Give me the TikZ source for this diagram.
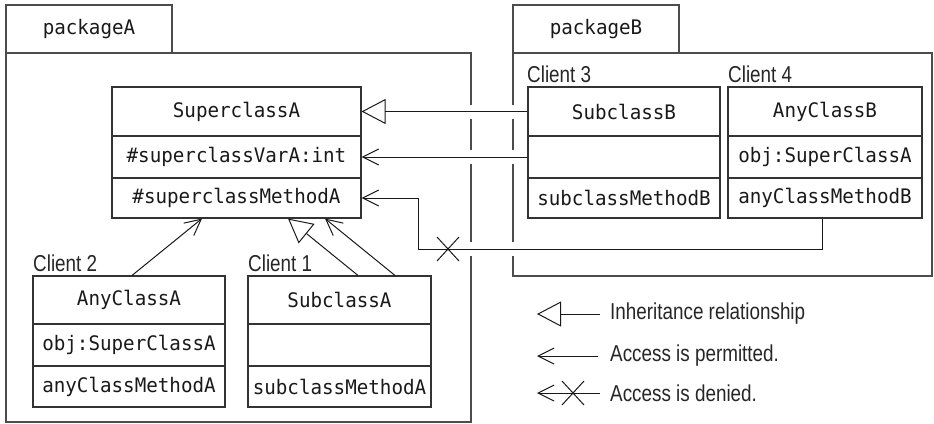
\documentclass[tikz,border=0pt]{standalone}
\usepackage{fontspec}
\setmainfont{Liberation Sans}
\newfontfamily\monof[FakeStretch=0.96]{DejaVu Sans Mono}
\newfontfamily\labf[FakeStretch=0.82]{Liberation Sans}
\usetikzlibrary{arrows.meta}
\begin{document}
\begin{tikzpicture}[x=1pt,y=-1pt,
  comp/.style={draw=black!80, line width=1.1pt, inner sep=0pt,
    font=\monof\fontsize{20}{22}\selectfont, text=black!90},
  pkg/.style={draw=black!70, line width=1.1pt, inner sep=0pt,
    font=\monof\fontsize{20}{22}\selectfont, text=black!90},
  lbl/.style={inner sep=0pt, font=\labf\fontsize{23}{26}\selectfont, text=black!85},
  conn/.style={draw=black!90, line width=1pt},
  inherit/.style={conn, -{Triangle[open, length=24pt, width=25pt, line width=1pt]}},
  access/.style={conn, -{Straight Barb[length=16pt, width=16pt, line width=1pt]}},
  gap/.style={fill=white, draw=none}]
\useasboundingbox (0,0) rectangle (934,423);

% packages
\node[pkg, minimum width=166pt, minimum height=48pt] (pkgAtab) at (89,29) {packageA};
\node[pkg, minimum width=465pt, minimum height=369pt] (pkgA) at (238.5,237.5) {};
\node[pkg, minimum width=166pt, minimum height=48pt] (pkgBtab) at (596,29) {packageB};
\node[pkg, minimum width=419pt, minimum height=223pt] (pkgB) at (722.5,164.5) {};

% gaps in package borders where connectors cross
\foreach \gx in {471,513}{
  \fill[gap] (\gx-3,105) rectangle (\gx+3,119);
  \fill[gap] (\gx-3,150) rectangle (\gx+3,164);
  \fill[gap] (\gx-3,242) rectangle (\gx+3,256);
}

% SuperclassA
\node[comp, minimum width=249pt, minimum height=49pt] (supAt) at (236.5,111.5) {SuperclassA};
\node[comp, minimum width=249pt, minimum height=42pt] (supAv) at (236.5,157) {\#superclassVarA:int};
\node[comp, minimum width=249pt, minimum height=40pt] (supAo) at (236.5,198) {\#superclassMethodA};

% SubclassB
\node[lbl, anchor=base west] (c3) at (527,82) {Client 3};
\node[comp, minimum width=192pt, minimum height=49pt] (subBt) at (624,111.5) {SubclassB};
\node[comp, minimum width=192pt, minimum height=42pt] (subBv) at (624,157) {};
\node[comp, minimum width=192pt, minimum height=40pt] (subBo) at (624,198) {subclassMethodB};

% AnyClassB
\node[lbl, anchor=base west] (c4) at (728,82) {Client 4};
\node[comp, minimum width=194pt, minimum height=49pt] (anyBt) at (825,111.5) {AnyClassB};
\node[comp, minimum width=194pt, minimum height=42pt] (anyBv) at (825,157) {obj:SuperClassA};
\node[comp, minimum width=194pt, minimum height=40pt] (anyBo) at (825,198) {anyClassMethodB};

% AnyClassA
\node[lbl, anchor=base west] (c2) at (33,271) {Client 2};
\node[comp, minimum width=192pt, minimum height=48pt] (anyAt) at (129,300) {AnyClassA};
\node[comp, minimum width=192pt, minimum height=42pt] (anyAv) at (129,345) {obj:SuperClassA};
\node[comp, minimum width=192pt, minimum height=41pt] (anyAo) at (129,386.5) {anyClassMethodA};

% SubclassA
\node[lbl, anchor=base west] (c1) at (248,271) {Client 1};
\node[comp, minimum width=183pt, minimum height=48pt] (subAt) at (339.5,300) {SubclassA};
\node[comp, minimum width=183pt, minimum height=42pt] (subAv) at (339.5,345) {};
\node[comp, minimum width=183pt, minimum height=41pt] (subAo) at (339.5,386.5) {subclassMethodA};

% connectors
\draw[inherit] (subBt.west) -- (supAt.east);
\draw[access] (subBv.west) -- (supAv.east);
\coordinate (d1) at (822,249);
\coordinate (d2) at (418,249);
\draw[access] (d1 |- anyBo.south) -- (d1) -- (d2) |- (supAo.east);
\coordinate (xm) at (448,249);
\draw[conn] ([shift={(-11,-12)}]xm) -- ([shift={(11,12)}]xm);
\draw[conn] ([shift={(-11,12)}]xm) -- ([shift={(11,-12)}]xm);

\draw[access] ([xshift=3pt]anyAt.north) -- ([xshift=-34.5pt]supAo.south);
\draw[inherit] ([xshift=18.5pt]subAt.north) -- ([xshift=51.5pt]supAo.south);
\draw[access] ([xshift=55.5pt]subAt.north) -- ([xshift=88.5pt]supAo.south);

% legend
\coordinate (l1a) at (600,314); \coordinate (l1b) at (537,314);
\coordinate (l2a) at (598,356); \coordinate (l2b) at (537,356);
\coordinate (l3a) at (600,393); \coordinate (l3b) at (537,393);
\draw[inherit] (l1a) -- (l1b);
\draw[access] (l2a) -- (l2b);
\draw[access] (l3a) -- (l3b);
\coordinate (xl) at (573,393);
\draw[conn] ([shift={(-11,-12)}]xl) -- ([shift={(11,12)}]xl);
\draw[conn] ([shift={(-11,12)}]xl) -- ([shift={(11,-12)}]xl);
\node[lbl, anchor=west] (t1) at (610,314) {Inheritance relationship};
\node[lbl, anchor=west] (t2) at (610,356) {Access is permitted.};
\node[lbl, anchor=west] (t3) at (610,393) {Access is denied.};
\end{tikzpicture}
\end{document}
